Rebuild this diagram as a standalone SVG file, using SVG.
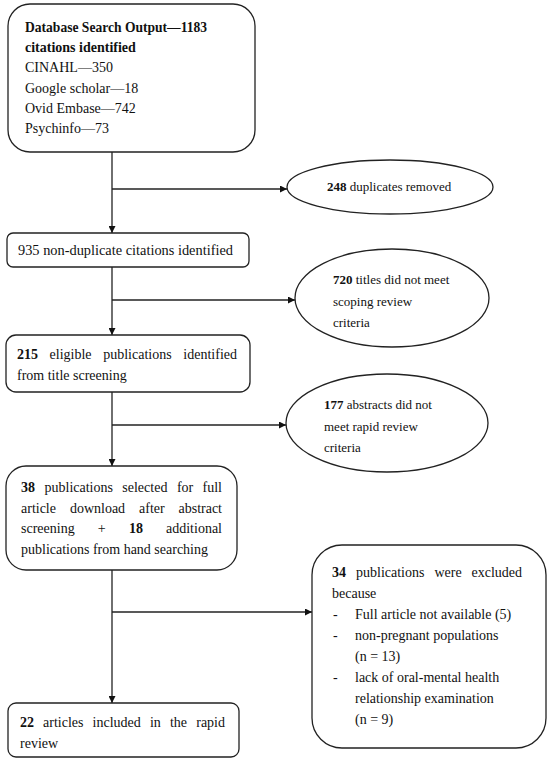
<svg xmlns="http://www.w3.org/2000/svg" width="550" height="763" viewBox="0 0 550 763">
<style>
.shape{fill:#fff;stroke:#222;stroke-width:1.3}
.conn{fill:none;stroke:#222;stroke-width:1.3}
text{font-family:"Liberation Serif","Times New Roman",serif;font-size:14px;fill:#111}
.sm{font-size:13px}
.b{font-weight:bold}
.e{text-anchor:end}
</style>
<defs>
<marker id="arr" viewBox="0 0 10 10" refX="10" refY="5" markerWidth="7" markerHeight="7" markerUnits="userSpaceOnUse" orient="auto">
<path d="M0,0 L10,5 L0,10 z" fill="#111"/>
</marker>
</defs>
<rect width="550" height="763" fill="#fff"/>
<g id="connectors">
<line class="conn" x1="112" y1="152" x2="112" y2="233" marker-end="url(#arr)"/>
<line class="conn" x1="112" y1="189" x2="287" y2="189" marker-end="url(#arr)"/>
<line class="conn" x1="112" y1="267" x2="112" y2="335" marker-end="url(#arr)"/>
<line class="conn" x1="112" y1="300" x2="295" y2="300" marker-end="url(#arr)"/>
<line class="conn" x1="112" y1="392" x2="112" y2="466" marker-end="url(#arr)"/>
<line class="conn" x1="112" y1="425" x2="286" y2="425" marker-end="url(#arr)"/>
<line class="conn" x1="112" y1="570" x2="112" y2="703" marker-end="url(#arr)"/>
<line class="conn" x1="112" y1="612" x2="312" y2="612" marker-end="url(#arr)"/>
</g>
<g id="n1">
<rect class="shape" x="8" y="4" width="247" height="148" rx="22"/>
<text x="25" y="32" class="b" textLength="182" lengthAdjust="spacingAndGlyphs">Database Search Output—1183</text>
<text x="25" y="52" class="b">citations identified</text>
<text x="25" y="72">CINAHL—350</text>
<text x="25" y="93">Google scholar—18</text>
<text x="25" y="113">Ovid Embase—742</text>
<text x="25" y="133">Psychinfo—73</text>
</g>
<g id="n2">
<ellipse class="shape" cx="390" cy="187" rx="103" ry="27"/>
<text x="327" y="191" class="sm"><tspan class="b">248</tspan> duplicates removed</text>
</g>
<g id="n3">
<rect class="shape" x="7" y="233" width="242" height="34" rx="6"/>
<text x="18" y="255" textLength="215" lengthAdjust="spacingAndGlyphs">935 non-duplicate citations identified</text>
</g>
<g id="n4">
<ellipse class="shape" cx="392" cy="298" rx="97" ry="49"/>
<text x="333" y="284" class="sm"><tspan class="b">720</tspan> titles did not meet</text>
<text x="333" y="306" class="sm">scoping review</text>
<text x="333" y="327" class="sm">criteria</text>
</g>
<g id="n5">
<rect class="shape" x="6" y="335" width="244" height="57" rx="10"/>
<text y="359"><tspan x="17" class="b">215</tspan><tspan x="49.6">eligible</tspan><tspan x="103.2">publications</tspan><tspan x="237" class="e">identified</tspan></text>
<text x="17" y="380">from title screening</text>
</g>
<g id="n6">
<ellipse class="shape" cx="387" cy="423" rx="101" ry="49"/>
<text x="324" y="409" class="sm"><tspan class="b">177</tspan> abstracts did not</text>
<text x="324" y="431" class="sm">meet rapid review</text>
<text x="324" y="452" class="sm">criteria</text>
</g>
<g id="n7">
<rect class="shape" x="6" y="466" width="231" height="104" rx="20"/>
<text y="492"><tspan x="21" class="b">38</tspan><tspan x="44.5">publications</tspan><tspan x="122.3">selected</tspan><tspan x="176.9">for</tspan><tspan x="222" class="e">full</tspan></text>
<text y="513"><tspan x="21">article</tspan><tspan x="69.9">download</tspan><tspan x="139">after</tspan><tspan x="222" class="e">abstract</tspan></text>
<text y="533"><tspan x="21">screening</tspan><tspan x="97.8">+</tspan><tspan x="128.9" class="b">18</tspan><tspan x="222" class="e">additional</tspan></text>
<text x="21" y="554">publications from hand searching</text>
</g>
<g id="n8">
<rect class="shape" x="312" y="545" width="234" height="203" rx="30"/>
<text y="577"><tspan x="332" class="b">34</tspan><tspan x="356">publications</tspan><tspan x="434.4">were</tspan><tspan x="522" class="e">excluded</tspan></text>
<text x="332" y="598">because</text>
<text x="333" y="619">-</text><text x="355" y="619">Full article not available (5)</text>
<text x="333" y="640">-</text><text x="355" y="640">non-pregnant populations</text>
<text x="355" y="661">(n = 13)</text>
<text x="333" y="682">-</text><text x="355" y="682">lack of oral-mental health</text>
<text x="355" y="703">relationship examination</text>
<text x="355" y="724">(n = 9)</text>
</g>
<g id="n9">
<rect class="shape" x="8" y="703" width="231" height="54" rx="8"/>
<text y="727"><tspan x="20" class="b">22</tspan><tspan x="43.1">articles</tspan><tspan x="92.6">included</tspan><tspan x="149.9">in</tspan><tspan x="169.9">the</tspan><tspan x="225" class="e">rapid</tspan></text>
<text x="20" y="748">review</text>
</g>
</svg>
